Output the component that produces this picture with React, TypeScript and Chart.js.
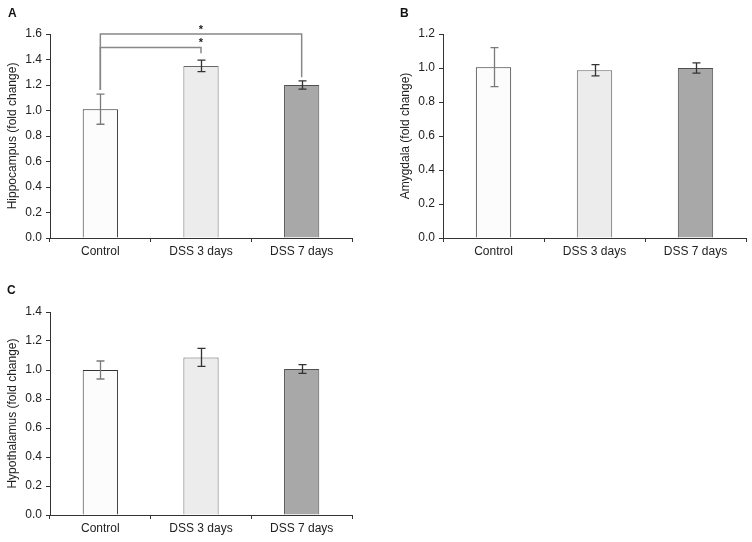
import React, { useEffect, useRef } from "react";
import { Chart, registerables } from "chart.js";

Chart.register(...registerables);

const categories = ["Control", "DSS 3 days", "DSS 7 days"];

const hippocampusMeans = [1.01, 1.35, 1.2];
const hippocampusErrors = [0.118, 0.045, 0.032];
const amygdalaMeans = [1.005, 0.987, 1.0];
const amygdalaErrors = [0.115, 0.033, 0.03];
const hypothalamusMeans = [1.0, 1.087, 1.007];
const hypothalamusErrors = [0.062, 0.062, 0.03];

const hippocampusTickMax = 1.6;
const amygdalaTickMax = 1.2;
const hypothalamusTickMax = 1.4;
const tickStep = 0.2;

// significance brackets for panel A: from/to category index, bracket level, drop ends
const hippocampusBrackets = [
  { from: 0, to: 2, level: 1.6, fromEnd: 1.16, toEnd: 1.26, starAt: 1, label: "*" },
  { from: 0, to: 1, level: 1.495, fromEnd: 1.16, toEnd: 1.45, starAt: 1, label: "*" },
];

const barFills = ["#fcfcfc", "#ececec", "#a8a8a8"];
const barBorders = ["#333333", "#666666", "#505050"];
const errColors = ["#7a7a7a", "#333333", "#333333"];
const FONT = "'Liberation Sans', Arial, sans-serif";

type Bracket = { from: number; to: number; level: number; fromEnd: number; toEnd: number; starAt: number; label: string };

type PanelProps = {
  left: number;
  top: number;
  width: number;
  height: number;
  padRight: number;
  xHeight: number;
  means: number[];
  errors: number[];
  max: number;
  title: string;
  brackets?: Bracket[];
};

function Panel(p: PanelProps) {
  const ref = useRef<HTMLCanvasElement | null>(null);
  useEffect(() => {
    if (!ref.current) return;
    const errorPlugin = {
      id: "errbars",
      afterDatasetsDraw(chart: any) {
        const ctx = chart.ctx;
        const meta = chart.getDatasetMeta(0);
        const ys = chart.scales.y;
        ctx.save();
        ctx.lineWidth = 1.3;
        meta.data.forEach((el: any, i: number) => {
          const x = Math.round(el.x) + 0.5;
          const yHi = ys.getPixelForValue(p.means[i] + p.errors[i]);
          const yLo = ys.getPixelForValue(p.means[i] - p.errors[i]);
          ctx.strokeStyle = errColors[i];
          ctx.beginPath();
          ctx.moveTo(x, yHi);
          ctx.lineTo(x, yLo);
          ctx.moveTo(x - 4, yHi);
          ctx.lineTo(x + 4, yHi);
          ctx.moveTo(x - 4, yLo);
          ctx.lineTo(x + 4, yLo);
          ctx.stroke();
        });
        ctx.restore();
      },
      afterDraw(chart: any) {
        if (!p.brackets) return;
        const ctx = chart.ctx;
        const xs = chart.scales.x;
        const ys = chart.scales.y;
        ctx.save();
        ctx.strokeStyle = "#888888";
        ctx.lineWidth = 1.5;
        p.brackets.forEach((b) => {
          const x1 = xs.getPixelForValue(b.from);
          const x2 = xs.getPixelForValue(b.to);
          const yl = ys.getPixelForValue(b.level);
          ctx.beginPath();
          ctx.moveTo(x1, ys.getPixelForValue(b.fromEnd));
          ctx.lineTo(x1, yl);
          ctx.lineTo(x2, yl);
          ctx.lineTo(x2, ys.getPixelForValue(b.toEnd));
          ctx.stroke();
          ctx.fillStyle = "#222";
          ctx.font = `bold 11px ${FONT}`;
          ctx.textAlign = "center";
          ctx.textBaseline = "middle";
          ctx.fillText(b.label, xs.getPixelForValue(b.starAt), yl - 4);
        });
        ctx.restore();
      },
    };
    const chart = new Chart(ref.current, {
      type: "bar",
      data: {
        labels: categories,
        datasets: [
          {
            data: p.means,
            backgroundColor: barFills,
            borderColor: barBorders,
            borderWidth: 1,
            barPercentage: 0.35,
            categoryPercentage: 1,
          },
        ],
      },
      options: {
        animation: false,
        responsive: false,
        layout: { padding: { top: 34, right: p.padRight, left: 0, bottom: 0 } },
        plugins: { legend: { display: false }, tooltip: { enabled: false } },
        scales: {
          x: {
            offset: true,
            grid: { display: true, offset: true, drawOnChartArea: false, drawTicks: true, tickLength: 4, color: "#333" },
            border: { display: true, color: "#333", width: 1 },
            ticks: { color: "#222", font: { family: FONT, size: 12 }, padding: 2 },
            afterFit: (s: any) => {
              s.height = p.xHeight;
            },
          },
          y: {
            min: 0,
            max: p.max,
            ticks: {
              stepSize: tickStep,
              color: "#222",
              font: { family: FONT, size: 12 },
              padding: 4,
              callback: (v: any) => Number(v).toFixed(1),
            },
            grid: { display: true, drawOnChartArea: false, drawTicks: true, tickLength: 4, color: "#333" },
            border: { display: true, color: "#333", width: 1 },
            title: {
              display: true,
              text: p.title,
              color: "#222",
              font: { family: FONT, size: 12 },
              padding: { top: 5, bottom: 0 },
            },
            afterFit: (s: any) => {
              s.width = 50;
            },
          },
        },
      },
      plugins: [errorPlugin],
    } as any);
    return () => chart.destroy();
  }, []);
  return (
    <canvas
      ref={ref}
      width={p.width}
      height={p.height}
      style={{ position: "absolute", left: p.left, top: p.top, width: p.width, height: p.height }}
    />
  );
}

const labelStyle = (left: number, top: number): React.CSSProperties => ({
  position: "absolute",
  left,
  top,
  fontFamily: FONT,
  fontWeight: "bold",
  fontSize: 12,
  lineHeight: "12px",
  color: "#111",
});

export default function App() {
  return (
    <div style={{ position: "absolute", left: 0, top: 0, width: 752, height: 542, background: "#fff" }}>
      <Panel
        left={0}
        top={0}
        width={376}
        height={270}
        padRight={24}
        xHeight={32}
        means={hippocampusMeans}
        errors={hippocampusErrors}
        max={hippocampusTickMax}
        title="Hippocampus (fold change)"
        brackets={hippocampusBrackets}
      />
      <Panel
        left={393}
        top={0}
        width={359}
        height={270}
        padRight={6}
        xHeight={32}
        means={amygdalaMeans}
        errors={amygdalaErrors}
        max={amygdalaTickMax}
        title="Amygdala (fold change)"
      />
      <Panel
        left={0}
        top={278}
        width={376}
        height={264}
        padRight={24}
        xHeight={27}
        means={hypothalamusMeans}
        errors={hypothalamusErrors}
        max={hypothalamusTickMax}
        title="Hypothalamus (fold change)"
      />
      <div style={labelStyle(8, 7)}>A</div>
      <div style={labelStyle(400, 7)}>B</div>
      <div style={labelStyle(7, 284)}>C</div>
    </div>
  );
}
